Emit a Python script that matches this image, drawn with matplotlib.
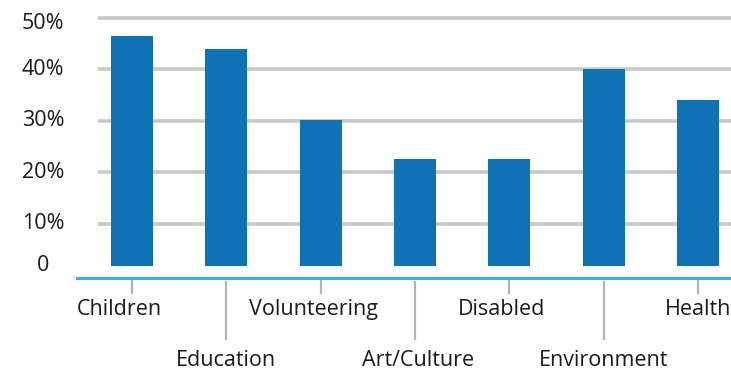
import matplotlib
matplotlib.use('Agg')
import matplotlib.pyplot as plt
from matplotlib.transforms import blended_transform_factory
import numpy as np

plt.rcParams['font.family'] = ['Open Sans', 'DejaVu Sans']

categories = ['Children', 'Education', 'Volunteering', 'Art/Culture',
              'Disabled', 'Environment', 'Health']
shares = [46.5, 44.0, 30.2, 22.6, 22.6, 40.1, 34.1]
label_row = [0, 1, 0, 1, 0, 1, 0]   # 0 = upper row, 1 = lower row
grid_vals = [10, 20, 30, 40, 50]
ytick_text = ['0', '10%', '20%', '30%', '40%', '50%']
ytick_pos = [1.85, 10, 20, 30, 40, 48.9]

BAR_COLOR = '#0f72b5'
AXIS_COLOR = '#45aee0'
GRID_COLOR = '#c8c8c8'
TICK_COLOR = '#b4b4b4'
TEXT_COLOR = '#1a1a1a'
FS = 15.5
base = 1.85  # bars float slightly above the baseline

W, H = 731, 374
fig = plt.figure(figsize=(W / 100, H / 100), dpi=100)
ax = fig.add_axes([77 / W, 96 / H, 654 / W, 268 / H])

x = np.arange(len(categories))
ax.bar(x, np.array(shares) - base, bottom=base, width=0.445,
       color=BAR_COLOR, zorder=3)

# gridlines
ax.hlines(grid_vals, -0.36, 6.4, colors=GRID_COLOR, lw=2.6, zorder=1)

ax.set_xlim(-0.583, 6.35)
ax.set_ylim(-0.5, 51.55)
for s in ['top', 'right', 'left']:
    ax.spines[s].set_visible(False)
ax.spines['bottom'].set_color(AXIS_COLOR)
ax.spines['bottom'].set_linewidth(2.2)
ax.set_xticks([])
ax.set_yticks([])

# y labels centred in the left margin
tr = blended_transform_factory(fig.transFigure, ax.transData)
for pos, txt in zip(ytick_pos, ytick_text):
    fig.text(43 / W, pos, txt, transform=tr, ha='center', va='center',
             fontsize=FS, color=TEXT_COLOR)

# staggered category labels with leader ticks
offsets = [-0.13, 0, -0.08, 0.03, -0.08, 0, 0]
for i, (cat, row) in enumerate(zip(categories, label_row)):
    if row == 0:
        ax.plot([i, i], [-0.87, -3.4], color=TICK_COLOR, lw=1.6, clip_on=False)
        ax.text(i + offsets[i], -6.6, cat, ha='center', va='center',
                fontsize=FS, color=TEXT_COLOR, clip_on=False)
    else:
        ax.plot([i, i], [-1.2, -12.3], color=TICK_COLOR, lw=1.6, clip_on=False)
        ax.text(i + offsets[i], -16.6, cat, ha='center', va='center',
                fontsize=FS, color=TEXT_COLOR, clip_on=False)

fig.savefig('out.png', dpi=100)
